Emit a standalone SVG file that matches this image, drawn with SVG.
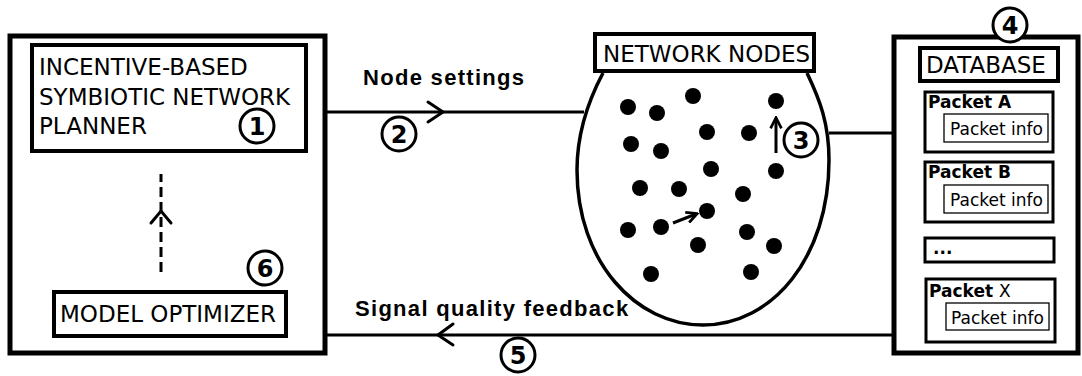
<svg xmlns="http://www.w3.org/2000/svg" width="1082" height="376" viewBox="0 0 1082 376">
  <style>
    .frame { fill: #fff; stroke: #000; stroke-width: 5; }
    .box { fill: #fff; stroke: #000; stroke-width: 4; }
    .pkt { fill: #fff; stroke: #000; stroke-width: 3; }
    .info { fill: #fff; stroke: #000; stroke-width: 1.3; }
    .wire { fill: none; stroke: #000; stroke-width: 3; }
    .chev { fill: none; stroke: #000; stroke-width: 3; stroke-linecap: round; stroke-linejoin: miter; }
    .title { font-family: "DejaVu Sans", Verdana, sans-serif; font-size: 23px; fill: #000; }
    .label { font-family: "Liberation Sans", Arial, sans-serif; font-size: 22px; font-weight: bold; letter-spacing: 1.3px; fill: #000; }
    .ptitle { font-family: "DejaVu Sans", Verdana, sans-serif; font-size: 17px; font-weight: bold; fill: #000; }
    .ptext { font-family: "DejaVu Sans", Verdana, sans-serif; font-size: 17px; fill: #000; }
    .num circle { fill: #fff; stroke: #000; stroke-width: 3; }
    .num text { font-family: "DejaVu Sans", Verdana, sans-serif; font-size: 24px; font-weight: bold; text-anchor: middle; fill: #000; }
    .dot { fill: #000; }
  </style>
  <defs>
    <marker id="tip" viewBox="0 0 10 10" refX="8" refY="5" markerWidth="4.5" markerHeight="4.5" orient="auto">
      <path d="M1,1 L9,5 L1,9" fill="none" stroke="#000" stroke-width="2"/>
    </marker>
  </defs>

  <rect width="1082" height="376" fill="#fff"/>

  <!-- Left frame: planner + optimizer -->
  <g id="planner-frame">
    <rect class="frame" x="10" y="36" width="315" height="317"/>
  </g>

  <!-- Network nodes cloud -->
  <g id="network-nodes">
    <path d="M603,73 C586,105 577,135 577,170 C577,262 636,325 703,325 C772,325 829,258 829,160 C829,124 820,100 807,73" fill="#fff" stroke="#000" stroke-width="3.5"/>
    <g class="dot">
      <circle cx="628" cy="107" r="8"/>
      <circle cx="657" cy="113" r="8"/>
      <circle cx="693" cy="96" r="8"/>
      <circle cx="776" cy="101" r="8"/>
      <circle cx="707" cy="132" r="8"/>
      <circle cx="749" cy="133" r="8"/>
      <circle cx="631" cy="144" r="8"/>
      <circle cx="661" cy="151" r="8"/>
      <circle cx="711" cy="169" r="8"/>
      <circle cx="776" cy="171" r="8"/>
      <circle cx="640" cy="188" r="8"/>
      <circle cx="679" cy="189" r="8"/>
      <circle cx="743" cy="194" r="8"/>
      <circle cx="707" cy="211" r="8"/>
      <circle cx="628" cy="230" r="8"/>
      <circle cx="661" cy="227" r="8"/>
      <circle cx="698" cy="245" r="8"/>
      <circle cx="747" cy="232" r="8"/>
      <circle cx="774" cy="246" r="8"/>
      <circle cx="651" cy="274" r="8"/>
      <circle cx="751" cy="272" r="8"/>
    </g>
    <line x1="673" y1="223" x2="696" y2="214" stroke="#000" stroke-width="3" marker-end="url(#tip)"/>
    <line x1="776" y1="153" x2="776" y2="119" stroke="#000" stroke-width="3" marker-end="url(#tip)"/>
    <rect class="box" x="595" y="34" width="219" height="37"/>
    <text class="title" x="603" y="62">NETWORK NODES</text>
  </g>

  <!-- Connectors -->
  <g id="connectors">
    <line class="wire" x1="325" y1="112" x2="584" y2="112"/>
    <path class="chev" d="M428,102 L443,112 L428,122"/>
    <line class="wire" x1="829" y1="133" x2="894" y2="133"/>
    <line class="wire" x1="325" y1="335" x2="894" y2="335"/>
    <path class="chev" d="M453,324 L438,335 L453,345"/>
    <line x1="161" y1="272" x2="161" y2="174" stroke="#000" stroke-width="3" stroke-dasharray="10 5"/>
    <path class="chev" d="M151,223 L161,211 L171,223"/>
  </g>

  <!-- Planner -->
  <g id="planner">
    <rect class="box" x="32" y="45" width="274" height="106"/>
    <text class="title" x="39" y="75">INCENTIVE-BASED</text>
    <text class="title" x="39" y="105">SYMBIOTIC NETWORK</text>
    <text class="title" x="39" y="134">PLANNER</text>
  </g>

  <!-- Optimizer -->
  <g id="optimizer">
    <rect class="box" x="54" y="292" width="232" height="44"/>
    <text class="title" x="60" y="322">MODEL OPTIMIZER</text>
  </g>

  <!-- Database -->
  <g id="database">
    <rect class="frame" x="894" y="37" width="184" height="316"/>
    <rect class="box" x="920" y="48" width="138" height="33"/>
    <text class="title" x="926" y="73" font-size="22">DATABASE</text>

    <g id="packet-a">
      <rect class="pkt" x="925" y="92" width="128" height="60"/>
      <text class="ptitle" x="928" y="108">Packet A</text>
      <rect class="info" x="944" y="114" width="104" height="28"/>
      <text class="ptext" x="950" y="135">Packet info</text>
    </g>
    <g id="packet-b">
      <rect class="pkt" x="925" y="162" width="128" height="60"/>
      <text class="ptitle" x="928" y="178">Packet B</text>
      <rect class="info" x="944" y="185" width="104" height="28"/>
      <text class="ptext" x="950" y="206">Packet info</text>
    </g>
    <g id="packet-more">
      <rect class="pkt" x="925" y="238" width="129" height="24"/>
      <text class="ptitle" x="933" y="254">...</text>
    </g>
    <g id="packet-x">
      <rect class="pkt" x="926" y="279" width="129" height="63"/>
      <text class="ptitle" x="929" y="297">Packet <tspan font-weight="normal">X</tspan></text>
      <rect class="info" x="946" y="303" width="103" height="27"/>
      <text class="ptext" x="951" y="324">Packet info</text>
    </g>
  </g>

  <!-- Text labels on connectors -->
  <g id="labels">
    <text class="label" x="363" y="85">Node settings</text>
    <text class="label" x="355" y="316">Signal quality feedback</text>
  </g>

  <!-- Step numbers -->
  <g id="steps">
    <g class="num" id="step-1"><circle cx="257" cy="126" r="17"/><text x="257" y="135">1</text></g>
    <g class="num" id="step-2"><circle cx="399" cy="134" r="17"/><text x="399" y="143">2</text></g>
    <g class="num" id="step-3"><circle cx="801" cy="140" r="17"/><text x="801" y="149">3</text></g>
    <g class="num" id="step-4"><circle cx="1010" cy="25" r="17"/><text x="1010" y="34">4</text></g>
    <g class="num" id="step-5"><circle cx="518" cy="355" r="17"/><text x="518" y="364">5</text></g>
    <g class="num" id="step-6"><circle cx="265" cy="268" r="17"/><text x="265" y="277">6</text></g>
  </g>
</svg>
